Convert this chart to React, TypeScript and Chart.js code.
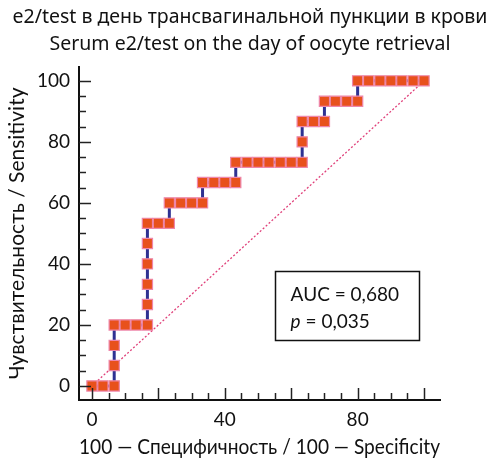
import React, { useEffect, useRef } from "react";
import { Chart, registerables } from "chart.js";
Chart.register(...registerables);

const titleLines = ["e2/test в день трансвагинальной пункции в крови", "Serum e2/test on the day of oocyte retrieval"];
const xTitle = "100 — Специфичность / 100 — Specificity";
const yTitle = "Чувствительность / Sensitivity";
const fpr = [0, 3.3, 6.7, 6.7, 6.7, 6.7, 10, 13.3, 16.7, 16.7, 16.7, 16.7, 16.7, 16.7, 20, 23.3, 23.3, 26.7, 30, 33.3, 33.3, 36.7, 40, 43.3, 43.3, 46.7, 50, 53.3, 56.7, 60, 63.3, 63.3, 63.3, 66.7, 70, 70, 73.3, 76.7, 80, 80, 83.3, 86.7, 90, 93.3, 96.7, 100];
const sens = [0, 0, 0, 6.7, 13.3, 20, 20, 20, 20, 26.7, 33.3, 40, 46.7, 53.3, 53.3, 53.3, 60, 60, 60, 60, 66.7, 66.7, 66.7, 66.7, 73.3, 73.3, 73.3, 73.3, 73.3, 73.3, 73.3, 80, 86.7, 86.7, 86.7, 93.3, 93.3, 93.3, 93.3, 100, 100, 100, 100, 100, 100, 100];
const diagX = [0, 100];
const diagY = [0, 100];
const tickValues = [0, 5, 10, 15, 20, 25, 30, 35, 40, 45, 50, 55, 60, 65, 70, 75, 80, 85, 90, 95, 100];
const xLabelValues = [0, 40, 80];
const yLabelValues = [0, 20, 40, 60, 80, 100];
const aucText = "AUC = 0,680";
const pText = "0,035";
const boxX = [55, 98.3];
const boxY = [15, 37.7];

const AXIS_FONT = "Lato";

const innerTicks = {
  id: "innerTicks",
  afterDraw(chart: any) {
    const { ctx, scales, chartArea } = chart;
    const x = scales.x, y = scales.y;
    ctx.save();
    ctx.strokeStyle = "#222";
    ctx.lineWidth = 1.5;
    for (const v of tickValues) {
      const len = v % 20 === 0 ? 12 : 7;
      const px = Math.round(x.getPixelForValue(v)) + 0.5;
      ctx.beginPath();
      ctx.moveTo(px, chartArea.bottom);
      ctx.lineTo(px, chartArea.bottom - len);
      ctx.stroke();
      const py = Math.round(y.getPixelForValue(v)) + 0.5;
      ctx.beginPath();
      ctx.moveTo(chartArea.left, py);
      ctx.lineTo(chartArea.left + len, py);
      ctx.stroke();
    }
    // AUC box
    const x0 = x.getPixelForValue(boxX[0]);
    const x1 = x.getPixelForValue(boxX[1]);
    const y0 = y.getPixelForValue(boxY[1]);
    const y1 = y.getPixelForValue(boxY[0]);
    ctx.lineWidth = 1.5;
    ctx.strokeStyle = "#111";
    ctx.strokeRect(Math.round(x0) + 0.5, Math.round(y0) + 0.5, Math.round(x1 - x0), Math.round(y1 - y0));
    ctx.fillStyle = "#111";
    ctx.textBaseline = "middle";
    ctx.textAlign = "left";
    ctx.font = `19px ${AXIS_FONT}`;
    const tx = x0 + 16;
    ctx.fillText(aucText, tx, y0 + 24);
    ctx.font = `italic 19px ${AXIS_FONT}`;
    ctx.fillText("p", tx, y0 + 51);
    const pw = ctx.measureText("p").width;
    ctx.font = `19px ${AXIS_FONT}`;
    ctx.fillText(" = " + pText, tx + pw, y0 + 51);
    ctx.restore();
  },
};

export default function App() {
  const ref = useRef<HTMLCanvasElement | null>(null);
  useEffect(() => {
    if (!ref.current) return;
    const chart = new Chart(ref.current, {
      type: "line",
      data: {
        datasets: [
          {
            data: fpr.map((v, i) => ({ x: v, y: sens[i] })),
            borderColor: "#2e3192",
            borderWidth: 3,
            pointStyle: "rect",
            pointRadius: 7.2,
            pointBackgroundColor: "#e8511c",
            pointBorderColor: "#ee86aa",
            pointBorderWidth: 1.2,
            tension: 0,
            order: 1,
          },
          {
            data: diagX.map((v, i) => ({ x: v, y: diagY[i] })),
            borderColor: "#e0407a",
            borderWidth: 1.3,
            borderDash: [2, 2],
            pointRadius: 0,
            order: 2,
          },
        ],
      },
      options: {
        animation: false,
        responsive: true,
        maintainAspectRatio: false,
        layout: { padding: { left: 0, right: 0, top: 4, bottom: 3 } },
        plugins: {
          legend: { display: false },
          tooltip: { enabled: false },
          title: {
            display: true,
            text: titleLines,
            color: "#111",
            font: { family: "Noto Sans", size: 19.5, weight: "normal", lineHeight: 1.38 },
            padding: { top: 0, bottom: 9 },
          },
        },
        scales: {
          x: {
            type: "linear",
            min: -3.9,
            max: 104.8,
            afterBuildTicks: (s: any) => {
              s.ticks = xLabelValues.map((v) => ({ value: v }));
            },
            afterFit: (s: any) => {
              s.height = 60;
            },
            grid: { display: false, drawTicks: false },
            border: { display: true, color: "#111", width: 2 },
            ticks: { color: "#111", font: { family: AXIS_FONT, size: 19 }, padding: 8, maxRotation: 0 },
            title: { display: true, text: xTitle, color: "#111", font: { family: AXIS_FONT, size: 21 }, padding: { top: 0, bottom: 0 } },
          },
          y: {
            type: "linear",
            min: -4.6,
            max: 104.6,
            afterBuildTicks: (s: any) => {
              s.ticks = yLabelValues.map((v) => ({ value: v }));
            },
            afterFit: (s: any) => {
              s.width = 79;
            },
            grid: { display: false, drawTicks: false },
            border: { display: true, color: "#111", width: 2 },
            ticks: { color: "#111", font: { family: AXIS_FONT, size: 19 }, padding: 9 },
            title: { display: true, text: yTitle, color: "#111", font: { family: AXIS_FONT, size: 21 }, padding: { top: 5, bottom: 0 } },
          },
          y2: {
            type: "linear",
            position: "right",
            display: true,
            afterFit: (s: any) => {
              s.width = 60;
            },
            grid: { display: false, drawTicks: false },
            border: { display: false },
            ticks: { display: false },
          },
        },
      },
      plugins: [innerTicks],
    });
    return () => chart.destroy();
  }, []);
  return (
    <div style={{ position: "fixed", left: 0, top: 0, width: 500, height: 463, background: "#fff" }}>
      <canvas ref={ref} />
    </div>
  );
}
